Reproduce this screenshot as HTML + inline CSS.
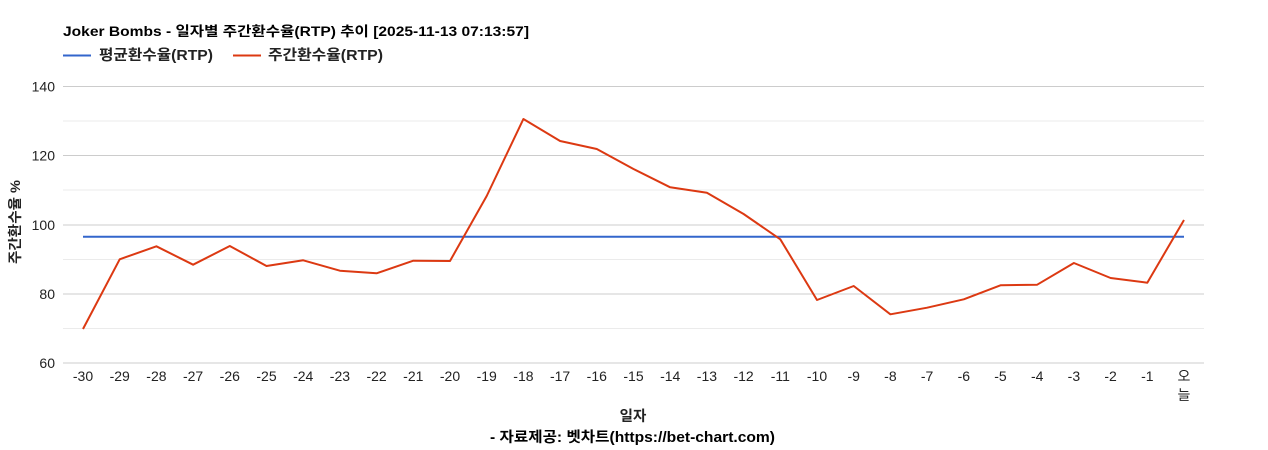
<!DOCTYPE html>
<html><head><meta charset="utf-8"><style>
html,body{margin:0;padding:0;background:#fff;}
svg{display:block;}
text{font-family:"Liberation Sans","Noto Sans CJK KR",sans-serif;}
</style></head><body>
<svg width="1268" height="450" viewBox="0 0 1268 450" xmlns="http://www.w3.org/2000/svg">
<rect width="1268" height="450" fill="#fff"/>
<text x="63" y="36" font-size="13.5" font-weight="bold" fill="#000" textLength="466" lengthAdjust="spacingAndGlyphs">Joker Bombs - 일자별 주간환수율(RTP) 추이 [2025-11-13 07:13:57]</text>
<line x1="63" y1="55.5" x2="91" y2="55.5" stroke="#3366cc" stroke-width="2"/>
<text x="99" y="60" font-size="14.5" font-weight="bold" fill="#222" textLength="114" lengthAdjust="spacingAndGlyphs">평균환수율(RTP)</text>
<line x1="233" y1="55.5" x2="261" y2="55.5" stroke="#dc3912" stroke-width="2"/>
<text x="268" y="60" font-size="14.5" font-weight="bold" fill="#222" textLength="115" lengthAdjust="spacingAndGlyphs">주간환수율(RTP)</text>
<g stroke="#ebebeb" stroke-width="1">
<line x1="63" y1="121" x2="1204" y2="121"/>
<line x1="63" y1="190" x2="1204" y2="190"/>
<line x1="63" y1="259.5" x2="1204" y2="259.5"/>
<line x1="63" y1="328.5" x2="1204" y2="328.5"/>
</g>
<g stroke="#cccccc" stroke-width="1">
<line x1="63" y1="86.5" x2="1204" y2="86.5"/>
<line x1="63" y1="155.5" x2="1204" y2="155.5"/>
<line x1="63" y1="225" x2="1204" y2="225"/>
<line x1="63" y1="294" x2="1204" y2="294"/>
<line x1="63" y1="363" x2="1204" y2="363"/>
</g>
<g font-size="14" fill="#222" text-anchor="end">
<text x="55" y="91.5">140</text>
<text x="55" y="160.5">120</text>
<text x="55" y="230">100</text>
<text x="55" y="299">80</text>
<text x="55" y="368">60</text>
</g>
<text transform="translate(20,222) rotate(-90)" font-size="14" font-weight="bold" fill="#222" text-anchor="middle" textLength="84" lengthAdjust="spacingAndGlyphs">주간환수율 %</text>
<g font-size="14" fill="#222" text-anchor="middle">
<text x="83" y="381">-30</text><text x="119.7" y="381">-29</text><text x="156.4" y="381">-28</text><text x="193.1" y="381">-27</text><text x="229.8" y="381">-26</text><text x="266.5" y="381">-25</text><text x="303.2" y="381">-24</text><text x="339.9" y="381">-23</text><text x="376.6" y="381">-22</text><text x="413.3" y="381">-21</text><text x="450" y="381">-20</text><text x="486.7" y="381">-19</text><text x="523.4" y="381">-18</text><text x="560.1" y="381">-17</text><text x="596.8" y="381">-16</text><text x="633.5" y="381">-15</text><text x="670.2" y="381">-14</text><text x="706.9" y="381">-13</text><text x="743.6" y="381">-12</text><text x="780.3" y="381">-11</text><text x="817" y="381">-10</text><text x="853.7" y="381">-9</text><text x="890.4" y="381">-8</text><text x="927.1" y="381">-7</text><text x="963.8" y="381">-6</text><text x="1000.5" y="381">-5</text><text x="1037.2" y="381">-4</text><text x="1073.9" y="381">-3</text><text x="1110.6" y="381">-2</text><text x="1147.3" y="381">-1</text>
<text x="1184" y="381">오</text><text x="1184" y="400">늘</text>
</g>
<line x1="83" y1="236.7" x2="1184" y2="236.7" stroke="#3366cc" stroke-width="2"/>
<polyline fill="none" stroke="#dc3912" stroke-width="2" stroke-linejoin="round" points="83,329 119.7,259.3 156.4,246.3 193.1,264.7 229.8,246 266.5,266 303.2,260.3 339.9,270.7 376.6,273.3 413.3,260.7 450,261 486.7,196 523.4,119 560.1,141 596.8,149 633.5,169 670.2,187.3 706.9,192.7 743.6,214 780.3,239.3 817,300 853.7,286 890.4,314.3 927.1,307.7 963.8,299.3 1000.5,285.3 1037.2,284.7 1073.9,263 1110.6,278 1147.3,282.7 1184,220"/>
<text x="633" y="421" font-size="14.5" font-weight="bold" fill="#222" text-anchor="middle">일자</text>
<text x="490" y="442" font-size="14.5" font-weight="bold" fill="#000" textLength="285" lengthAdjust="spacingAndGlyphs">- 자료제공: 벳차트(https://bet-chart.com)</text>
</svg>
</body></html>
